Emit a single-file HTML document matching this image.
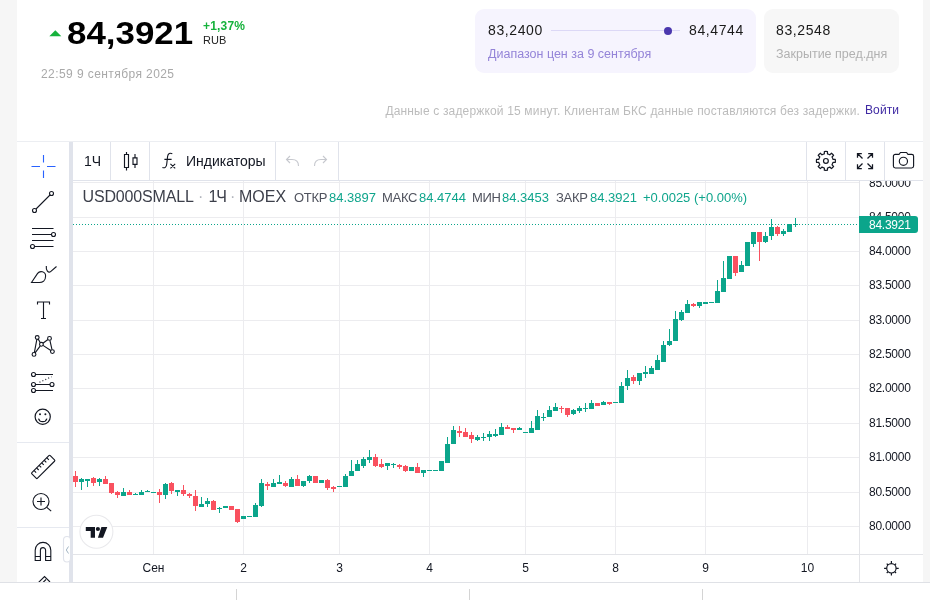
<!DOCTYPE html>
<html lang="ru">
<head>
<meta charset="utf-8">
<title>USD000SMALL</title>
<style>
*{box-sizing:border-box;margin:0;padding:0}
html,body{width:930px;height:600px;overflow:hidden;background:#fff}
body{position:relative;font-family:"Liberation Sans",sans-serif;color:#131722}
.abs{position:absolute}
.strip{position:absolute;top:0;height:582px;background:#f6f6f6}
.t{position:absolute;white-space:nowrap;line-height:1}
/* header */
#big{left:67px;top:18px;font-size:31px;font-weight:bold;color:#000;letter-spacing:0;transform-origin:0 50%;transform:scaleX(1.125)}
#chg{left:203px;top:20px;font-size:12px;font-weight:bold;color:#16b23c;letter-spacing:.2px}
#cur{left:203px;top:34.5px;font-size:11px;color:#222}
#date{left:41px;top:68px;font-size:12px;color:#a9a9a9;letter-spacing:.42px}
.card{position:absolute;top:9px;height:64px;border-radius:9px}
#c1{left:475px;width:281px;background:#f6f4fe}
#c2{left:764px;width:135px;background:#f7f7f7}
.num{font-size:14px;color:#1a1a1a;letter-spacing:.6px}
.sub{font-size:12.5px}
#note{right:70px;top:104.5px;font-size:12px;color:#bcbcbc;letter-spacing:.165px}
#login{left:865px;top:104px;font-size:12px;color:#3f2aa3;letter-spacing:.12px}
/* widget */
.hb{position:absolute;background:#e0e3eb}
.sep{position:absolute;top:142px;width:1px;height:38px;background:#e0e3eb}
.pl{position:absolute;left:869px;font-size:12px;line-height:16px;height:16px;white-space:nowrap;color:#131722;letter-spacing:-.25px}
.tl{position:absolute;top:560px;width:60px;text-align:center;font-size:12px;line-height:16px;white-space:nowrap;color:#131722}
.lg{position:absolute;top:190px;font-size:13px;line-height:16px;white-space:nowrap}
.lk{color:#50535e;letter-spacing:-.3px}
.lv{color:#0fa58c}
svg{position:absolute;left:0;top:0;overflow:visible}
</style>
</head>
<body>
<!-- page side strips -->
<div class="strip" style="left:0;width:17px"></div>
<div class="strip" style="left:923px;width:7px"></div>
<div class="hb" style="left:0;top:582px;width:930px;height:1px;background:#dfe1e6"></div>
<div class="hb" style="left:236px;top:589px;width:1px;height:11px;background:#d4d4d4"></div>
<div class="hb" style="left:469px;top:589px;width:1px;height:11px;background:#d4d4d4"></div>
<div class="hb" style="left:702px;top:589px;width:1px;height:11px;background:#d4d4d4"></div>

<!-- header -->
<svg width="930" height="140" viewBox="0 0 930 140"><path d="M49.3 36.2 L55.3 30.2 L61.3 36.2 Z" fill="#16b23c"/></svg>
<div class="t" id="big">84,3921</div>
<div class="t" id="chg">+1,37%</div>
<div class="t" id="cur">RUB</div>
<div class="t" id="date">22:59 9 сентября 2025</div>

<div class="card" id="c1">
  <div class="t num" style="left:13px;top:14px">83,2400</div>
  <div class="abs" style="left:76px;top:21px;width:129px;height:1px;background:#dcd8f6"></div>
  <div class="abs" style="left:189px;top:17.5px;width:8px;height:8px;border-radius:50%;background:#4b37ae"></div>
  <div class="t num" style="left:214px;top:14px">84,4744</div>
  <div class="t sub" style="left:13px;top:39px;color:#9484d8">Диапазон цен за 9 сентября</div>
</div>
<div class="card" id="c2">
  <div class="t num" style="left:12px;top:14px">83,2548</div>
  <div class="t sub" style="left:12px;top:39px;color:#b1b1b1">Закрытие пред.дня</div>
</div>
<div class="t" id="note">Данные с задержкой 15 минут. Клиентам БКС данные поставляются без задержки.</div>
<div class="t" id="login">Войти</div>

<!-- widget frame -->
<div class="hb" style="left:17px;top:141px;width:906px;height:1px;background:#eceef2"></div>
<div class="hb" style="left:69px;top:142px;width:4px;height:440px"></div>
<div class="hb" style="left:73px;top:180px;width:850px;height:1px"></div>
<div class="hb" style="left:73px;top:554px;width:850px;height:1px;background:#e3e4e8"></div>
<div class="hb" style="left:859px;top:181px;width:1px;height:401px;background:#e3e4e8"></div>
<div class="hb" style="left:17px;top:442px;width:52px;height:1px;background:#e6e9f0"></div>
<div class="hb" style="left:17px;top:527px;width:52px;height:1px;background:#e6e9f0"></div>
<div class="sep" style="left:110px"></div>
<div class="sep" style="left:149px"></div>
<div class="sep" style="left:275px"></div>
<div class="sep" style="left:338px"></div>
<div class="sep" style="left:806px"></div>
<div class="sep" style="left:845px"></div>
<div class="sep" style="left:884px"></div>

<!-- chart -->
<svg width="930" height="600" viewBox="0 0 930 600" shape-rendering="crispEdges">
<rect x="73" y="182" width="786" height="1" fill="#ececef"/>
<rect x="73" y="217" width="786" height="1" fill="#ececef"/>
<rect x="73" y="251" width="786" height="1" fill="#ececef"/>
<rect x="73" y="285" width="786" height="1" fill="#ececef"/>
<rect x="73" y="320" width="786" height="1" fill="#ececef"/>
<rect x="73" y="354" width="786" height="1" fill="#ececef"/>
<rect x="73" y="388" width="786" height="1" fill="#ececef"/>
<rect x="73" y="423" width="786" height="1" fill="#ececef"/>
<rect x="73" y="457" width="786" height="1" fill="#ececef"/>
<rect x="73" y="492" width="786" height="1" fill="#ececef"/>
<rect x="73" y="526" width="786" height="1" fill="#ececef"/>
<rect x="153" y="181" width="1" height="373" fill="#ececef"/>
<rect x="243" y="181" width="1" height="373" fill="#ececef"/>
<rect x="339" y="181" width="1" height="373" fill="#ececef"/>
<rect x="429" y="181" width="1" height="373" fill="#ececef"/>
<rect x="525" y="181" width="1" height="373" fill="#ececef"/>
<rect x="615" y="181" width="1" height="373" fill="#ececef"/>
<rect x="705" y="181" width="1" height="373" fill="#ececef"/>
<rect x="807" y="181" width="1" height="373" fill="#ececef"/>
<line x1="73" y1="224.5" x2="859" y2="224.5" stroke="#0ba58b" stroke-width="1" stroke-dasharray="1 2"/>
<rect x="75" y="471" width="1" height="16" fill="#f9515f"/>
<rect x="73" y="476" width="5" height="6" fill="#f9515f"/>
<rect x="81" y="478" width="1" height="12" fill="#0ba58b"/>
<rect x="79" y="479" width="5" height="3" fill="#0ba58b"/>
<rect x="87" y="479" width="1" height="8" fill="#0ba58b"/>
<rect x="85" y="479" width="5" height="2" fill="#0ba58b"/>
<rect x="93" y="477" width="1" height="9" fill="#f9515f"/>
<rect x="91" y="478" width="5" height="5" fill="#f9515f"/>
<rect x="99" y="478" width="1" height="8" fill="#0ba58b"/>
<rect x="97" y="479" width="5" height="3" fill="#0ba58b"/>
<rect x="105" y="476" width="1" height="8" fill="#f9515f"/>
<rect x="103" y="479" width="5" height="5" fill="#f9515f"/>
<rect x="111" y="483" width="1" height="11" fill="#f9515f"/>
<rect x="109" y="483" width="5" height="10" fill="#f9515f"/>
<rect x="117" y="491" width="1" height="7" fill="#f9515f"/>
<rect x="115" y="492" width="5" height="3" fill="#f9515f"/>
<rect x="123" y="488" width="1" height="8" fill="#0ba58b"/>
<rect x="121" y="492" width="5" height="4" fill="#0ba58b"/>
<rect x="129" y="490" width="1" height="5" fill="#f9515f"/>
<rect x="127" y="492" width="5" height="3" fill="#f9515f"/>
<rect x="135" y="493" width="1" height="2" fill="#0ba58b"/>
<rect x="133" y="494" width="5" height="1" fill="#0ba58b"/>
<rect x="141" y="490" width="1" height="5" fill="#0ba58b"/>
<rect x="139" y="492" width="5" height="3" fill="#0ba58b"/>
<rect x="147" y="490" width="1" height="2" fill="#0ba58b"/>
<rect x="145" y="491" width="5" height="1" fill="#0ba58b"/>
<rect x="151" y="492" width="5" height="1" fill="#0ba58b"/>
<rect x="159" y="489" width="1" height="14" fill="#f9515f"/>
<rect x="157" y="492" width="5" height="3" fill="#f9515f"/>
<rect x="165" y="483" width="1" height="16" fill="#0ba58b"/>
<rect x="163" y="484" width="5" height="11" fill="#0ba58b"/>
<rect x="171" y="482" width="1" height="12" fill="#f9515f"/>
<rect x="169" y="483" width="5" height="8" fill="#f9515f"/>
<rect x="177" y="490" width="1" height="6" fill="#0ba58b"/>
<rect x="175" y="490" width="5" height="2" fill="#0ba58b"/>
<rect x="183" y="485" width="1" height="11" fill="#f9515f"/>
<rect x="181" y="490" width="5" height="4" fill="#f9515f"/>
<rect x="189" y="493" width="1" height="5" fill="#f9515f"/>
<rect x="187" y="494" width="5" height="2" fill="#f9515f"/>
<rect x="195" y="490" width="1" height="21" fill="#f9515f"/>
<rect x="193" y="496" width="5" height="10" fill="#f9515f"/>
<rect x="201" y="497" width="1" height="10" fill="#0ba58b"/>
<rect x="199" y="504" width="5" height="3" fill="#0ba58b"/>
<rect x="207" y="498" width="1" height="9" fill="#0ba58b"/>
<rect x="205" y="501" width="5" height="3" fill="#0ba58b"/>
<rect x="213" y="500" width="1" height="10" fill="#f9515f"/>
<rect x="211" y="501" width="5" height="9" fill="#f9515f"/>
<rect x="219" y="507" width="1" height="6" fill="#0ba58b"/>
<rect x="217" y="508" width="5" height="1" fill="#0ba58b"/>
<rect x="223" y="506" width="5" height="2" fill="#0ba58b"/>
<rect x="229" y="506" width="5" height="4" fill="#f9515f"/>
<rect x="237" y="509" width="1" height="14" fill="#f9515f"/>
<rect x="235" y="509" width="5" height="13" fill="#f9515f"/>
<rect x="241" y="516" width="5" height="3" fill="#0ba58b"/>
<rect x="247" y="516" width="5" height="1" fill="#0ba58b"/>
<rect x="255" y="503" width="1" height="14" fill="#0ba58b"/>
<rect x="253" y="505" width="5" height="12" fill="#0ba58b"/>
<rect x="261" y="479" width="1" height="28" fill="#0ba58b"/>
<rect x="259" y="483" width="5" height="23" fill="#0ba58b"/>
<rect x="267" y="482" width="1" height="8" fill="#f9515f"/>
<rect x="265" y="484" width="5" height="2" fill="#f9515f"/>
<rect x="273" y="479" width="1" height="8" fill="#0ba58b"/>
<rect x="271" y="483" width="5" height="4" fill="#0ba58b"/>
<rect x="279" y="475" width="1" height="9" fill="#0ba58b"/>
<rect x="277" y="482" width="5" height="2" fill="#0ba58b"/>
<rect x="285" y="481" width="1" height="6" fill="#f9515f"/>
<rect x="283" y="483" width="5" height="3" fill="#f9515f"/>
<rect x="291" y="477" width="1" height="10" fill="#0ba58b"/>
<rect x="289" y="479" width="5" height="8" fill="#0ba58b"/>
<rect x="297" y="475" width="1" height="11" fill="#f9515f"/>
<rect x="295" y="479" width="5" height="7" fill="#f9515f"/>
<rect x="303" y="481" width="1" height="6" fill="#0ba58b"/>
<rect x="301" y="481" width="5" height="5" fill="#0ba58b"/>
<rect x="309" y="475" width="1" height="8" fill="#0ba58b"/>
<rect x="307" y="476" width="5" height="5" fill="#0ba58b"/>
<rect x="313" y="476" width="5" height="7" fill="#f9515f"/>
<rect x="319" y="480" width="5" height="3" fill="#0ba58b"/>
<rect x="327" y="479" width="1" height="11" fill="#f9515f"/>
<rect x="325" y="480" width="5" height="8" fill="#f9515f"/>
<rect x="333" y="486" width="1" height="6" fill="#f9515f"/>
<rect x="331" y="487" width="5" height="2" fill="#f9515f"/>
<rect x="337" y="486" width="5" height="1" fill="#0ba58b"/>
<rect x="345" y="474" width="1" height="13" fill="#0ba58b"/>
<rect x="343" y="476" width="5" height="11" fill="#0ba58b"/>
<rect x="351" y="460" width="1" height="16" fill="#0ba58b"/>
<rect x="349" y="471" width="5" height="5" fill="#0ba58b"/>
<rect x="357" y="460" width="1" height="11" fill="#0ba58b"/>
<rect x="355" y="464" width="5" height="7" fill="#0ba58b"/>
<rect x="363" y="457" width="1" height="11" fill="#0ba58b"/>
<rect x="361" y="459" width="5" height="7" fill="#0ba58b"/>
<rect x="369" y="450" width="1" height="13" fill="#0ba58b"/>
<rect x="367" y="457" width="5" height="3" fill="#0ba58b"/>
<rect x="375" y="454" width="1" height="13" fill="#f9515f"/>
<rect x="373" y="457" width="5" height="9" fill="#f9515f"/>
<rect x="381" y="459" width="1" height="9" fill="#f9515f"/>
<rect x="379" y="464" width="5" height="3" fill="#f9515f"/>
<rect x="387" y="463" width="1" height="7" fill="#0ba58b"/>
<rect x="385" y="463" width="5" height="3" fill="#0ba58b"/>
<rect x="393" y="463" width="1" height="5" fill="#0ba58b"/>
<rect x="391" y="464" width="5" height="1" fill="#0ba58b"/>
<rect x="399" y="464" width="1" height="5" fill="#f9515f"/>
<rect x="397" y="465" width="5" height="2" fill="#f9515f"/>
<rect x="405" y="465" width="1" height="7" fill="#f9515f"/>
<rect x="403" y="466" width="5" height="5" fill="#f9515f"/>
<rect x="409" y="467" width="5" height="4" fill="#0ba58b"/>
<rect x="417" y="463" width="1" height="10" fill="#f9515f"/>
<rect x="415" y="467" width="5" height="6" fill="#f9515f"/>
<rect x="423" y="470" width="1" height="7" fill="#0ba58b"/>
<rect x="421" y="470" width="5" height="3" fill="#0ba58b"/>
<rect x="427" y="470" width="5" height="1" fill="#0ba58b"/>
<rect x="433" y="470" width="5" height="1" fill="#0ba58b"/>
<rect x="439" y="461" width="5" height="10" fill="#0ba58b"/>
<rect x="447" y="437" width="1" height="26" fill="#0ba58b"/>
<rect x="445" y="444" width="5" height="19" fill="#0ba58b"/>
<rect x="453" y="426" width="1" height="18" fill="#0ba58b"/>
<rect x="451" y="430" width="5" height="14" fill="#0ba58b"/>
<rect x="459" y="426" width="1" height="11" fill="#f9515f"/>
<rect x="457" y="431" width="5" height="2" fill="#f9515f"/>
<rect x="465" y="428" width="1" height="9" fill="#f9515f"/>
<rect x="463" y="432" width="5" height="5" fill="#f9515f"/>
<rect x="471" y="432" width="1" height="11" fill="#f9515f"/>
<rect x="469" y="435" width="5" height="4" fill="#f9515f"/>
<rect x="477" y="435" width="1" height="6" fill="#0ba58b"/>
<rect x="475" y="437" width="5" height="3" fill="#0ba58b"/>
<rect x="483" y="433" width="1" height="8" fill="#0ba58b"/>
<rect x="481" y="437" width="5" height="1" fill="#0ba58b"/>
<rect x="489" y="431" width="1" height="10" fill="#0ba58b"/>
<rect x="487" y="434" width="5" height="3" fill="#0ba58b"/>
<rect x="495" y="429" width="1" height="8" fill="#0ba58b"/>
<rect x="493" y="434" width="5" height="2" fill="#0ba58b"/>
<rect x="501" y="423" width="1" height="12" fill="#0ba58b"/>
<rect x="499" y="427" width="5" height="8" fill="#0ba58b"/>
<rect x="507" y="425" width="1" height="4" fill="#f9515f"/>
<rect x="505" y="427" width="5" height="2" fill="#f9515f"/>
<rect x="513" y="428" width="1" height="5" fill="#f9515f"/>
<rect x="511" y="428" width="5" height="2" fill="#f9515f"/>
<rect x="519" y="427" width="1" height="3" fill="#0ba58b"/>
<rect x="517" y="428" width="5" height="2" fill="#0ba58b"/>
<rect x="523" y="432" width="5" height="1" fill="#0ba58b"/>
<rect x="531" y="421" width="1" height="12" fill="#0ba58b"/>
<rect x="529" y="428" width="5" height="5" fill="#0ba58b"/>
<rect x="537" y="410" width="1" height="20" fill="#0ba58b"/>
<rect x="535" y="416" width="5" height="14" fill="#0ba58b"/>
<rect x="543" y="413" width="1" height="8" fill="#0ba58b"/>
<rect x="541" y="417" width="5" height="1" fill="#0ba58b"/>
<rect x="549" y="406" width="1" height="11" fill="#0ba58b"/>
<rect x="547" y="410" width="5" height="7" fill="#0ba58b"/>
<rect x="555" y="403" width="1" height="8" fill="#0ba58b"/>
<rect x="553" y="407" width="5" height="4" fill="#0ba58b"/>
<rect x="561" y="406" width="1" height="7" fill="#f9515f"/>
<rect x="559" y="408" width="5" height="1" fill="#f9515f"/>
<rect x="567" y="408" width="1" height="9" fill="#f9515f"/>
<rect x="565" y="408" width="5" height="7" fill="#f9515f"/>
<rect x="573" y="409" width="1" height="6" fill="#0ba58b"/>
<rect x="571" y="410" width="5" height="4" fill="#0ba58b"/>
<rect x="579" y="406" width="1" height="7" fill="#0ba58b"/>
<rect x="577" y="408" width="5" height="3" fill="#0ba58b"/>
<rect x="585" y="403" width="1" height="9" fill="#0ba58b"/>
<rect x="583" y="408" width="5" height="1" fill="#0ba58b"/>
<rect x="591" y="400" width="1" height="9" fill="#0ba58b"/>
<rect x="589" y="403" width="5" height="6" fill="#0ba58b"/>
<rect x="595" y="403" width="5" height="3" fill="#f9515f"/>
<rect x="603" y="401" width="1" height="4" fill="#0ba58b"/>
<rect x="601" y="402" width="5" height="3" fill="#0ba58b"/>
<rect x="609" y="402" width="1" height="3" fill="#f9515f"/>
<rect x="607" y="402" width="5" height="2" fill="#f9515f"/>
<rect x="613" y="402" width="5" height="1" fill="#0ba58b"/>
<rect x="621" y="382" width="1" height="21" fill="#0ba58b"/>
<rect x="619" y="386" width="5" height="17" fill="#0ba58b"/>
<rect x="627" y="370" width="1" height="20" fill="#0ba58b"/>
<rect x="625" y="378" width="5" height="8" fill="#0ba58b"/>
<rect x="633" y="375" width="1" height="9" fill="#f9515f"/>
<rect x="631" y="377" width="5" height="4" fill="#f9515f"/>
<rect x="639" y="373" width="1" height="12" fill="#0ba58b"/>
<rect x="637" y="373" width="5" height="8" fill="#0ba58b"/>
<rect x="645" y="366" width="1" height="12" fill="#0ba58b"/>
<rect x="643" y="372" width="5" height="2" fill="#0ba58b"/>
<rect x="651" y="366" width="1" height="8" fill="#0ba58b"/>
<rect x="649" y="368" width="5" height="6" fill="#0ba58b"/>
<rect x="657" y="355" width="1" height="15" fill="#0ba58b"/>
<rect x="655" y="360" width="5" height="10" fill="#0ba58b"/>
<rect x="663" y="341" width="1" height="21" fill="#0ba58b"/>
<rect x="661" y="345" width="5" height="17" fill="#0ba58b"/>
<rect x="669" y="329" width="1" height="17" fill="#0ba58b"/>
<rect x="667" y="341" width="5" height="4" fill="#0ba58b"/>
<rect x="675" y="311" width="1" height="30" fill="#0ba58b"/>
<rect x="673" y="319" width="5" height="22" fill="#0ba58b"/>
<rect x="681" y="310" width="1" height="11" fill="#0ba58b"/>
<rect x="679" y="312" width="5" height="8" fill="#0ba58b"/>
<rect x="687" y="300" width="1" height="13" fill="#0ba58b"/>
<rect x="685" y="304" width="5" height="9" fill="#0ba58b"/>
<rect x="693" y="303" width="1" height="4" fill="#f9515f"/>
<rect x="691" y="304" width="5" height="2" fill="#f9515f"/>
<rect x="699" y="302" width="1" height="6" fill="#0ba58b"/>
<rect x="697" y="302" width="5" height="4" fill="#0ba58b"/>
<rect x="703" y="302" width="5" height="2" fill="#0ba58b"/>
<rect x="709" y="302" width="5" height="1" fill="#0ba58b"/>
<rect x="717" y="280" width="1" height="23" fill="#0ba58b"/>
<rect x="715" y="291" width="5" height="12" fill="#0ba58b"/>
<rect x="723" y="261" width="1" height="31" fill="#0ba58b"/>
<rect x="721" y="278" width="5" height="14" fill="#0ba58b"/>
<rect x="727" y="256" width="5" height="23" fill="#0ba58b"/>
<rect x="735" y="256" width="1" height="20" fill="#f9515f"/>
<rect x="733" y="256" width="5" height="17" fill="#f9515f"/>
<rect x="741" y="261" width="1" height="11" fill="#0ba58b"/>
<rect x="739" y="265" width="5" height="7" fill="#0ba58b"/>
<rect x="745" y="242" width="5" height="24" fill="#0ba58b"/>
<rect x="753" y="232" width="1" height="15" fill="#0ba58b"/>
<rect x="751" y="232" width="5" height="12" fill="#0ba58b"/>
<rect x="759" y="232" width="1" height="29" fill="#f9515f"/>
<rect x="757" y="232" width="5" height="10" fill="#f9515f"/>
<rect x="765" y="232" width="1" height="11" fill="#0ba58b"/>
<rect x="763" y="236" width="5" height="6" fill="#0ba58b"/>
<rect x="771" y="219" width="1" height="21" fill="#0ba58b"/>
<rect x="769" y="227" width="5" height="9" fill="#0ba58b"/>
<rect x="777" y="226" width="1" height="10" fill="#f9515f"/>
<rect x="775" y="227" width="5" height="7" fill="#f9515f"/>
<rect x="783" y="229" width="1" height="7" fill="#0ba58b"/>
<rect x="781" y="231" width="5" height="3" fill="#0ba58b"/>
<rect x="787" y="224" width="5" height="8" fill="#0ba58b"/>
<rect x="795" y="218" width="1" height="9" fill="#0ba58b"/>
<rect x="793" y="224" width="5" height="1" fill="#0ba58b"/>
</svg>

<!-- toolbar text -->
<div class="t" style="left:84px;top:154px;font-size:14px">1Ч</div>
<div class="t" style="left:186px;top:154px;font-size:14px">Индикаторы</div>

<!-- legend -->
<div class="lg" style="left:82.5px;top:187px;font-size:16px;line-height:20px;color:#3c3f4a;letter-spacing:-.15px">USD000SMALL</div>
<div class="lg" style="left:198px;top:187px;font-size:16px;line-height:20px;color:#b2b5bd">·</div>
<div class="lg" style="left:208.5px;top:187px;font-size:16px;line-height:20px;color:#3c3f4a;letter-spacing:-1.2px">1Ч</div>
<div class="lg" style="left:230px;top:187px;font-size:16px;line-height:20px;color:#b2b5bd">·</div>
<div class="lg" style="left:239px;top:187px;font-size:16px;line-height:20px;color:#3c3f4a">MOEX</div>
<div class="lg lk" style="left:294px">ОТКР</div><div class="lg lv" style="left:329px">84.3897</div>
<div class="lg lk" style="left:382px">МАКС</div><div class="lg lv" style="left:419px">84.4744</div>
<div class="lg lk" style="left:472px">МИН</div><div class="lg lv" style="left:502px">84.3453</div>
<div class="lg lk" style="left:556px">ЗАКР</div><div class="lg lv" style="left:590px">84.3921</div>
<div class="lg lv" style="left:643px">+0.0025 (+0.00%)</div>

<!-- price axis -->
<div class="abs" style="left:860px;top:181px;width:63px;height:373px;overflow:hidden">
<div style="position:absolute;left:-860px;top:-181px">
<div class="pl" style="top:174.9px">85.0000</div>
<div class="pl" style="top:209.4px">84.5000</div>
<div class="pl" style="top:243.4px">84.0000</div>
<div class="pl" style="top:277.4px">83.5000</div>
<div class="pl" style="top:312.4px">83.0000</div>
<div class="pl" style="top:346.4px">82.5000</div>
<div class="pl" style="top:380.4px">82.0000</div>
<div class="pl" style="top:415.4px">81.5000</div>
<div class="pl" style="top:449.4px">81.0000</div>
<div class="pl" style="top:484.4px">80.5000</div>
<div class="pl" style="top:518.4px">80.0000</div>
</div>
</div>
<div class="abs" style="left:859px;top:216px;width:59px;height:17px;background:#0ba58b;border-radius:0 3px 3px 0"></div>
<div class="pl" style="top:216.5px;color:#fff">84.3921</div>

<!-- time axis -->
<div class="tl" style="left:123.5px">Сен</div>
<div class="tl" style="left:213.5px">2</div>
<div class="tl" style="left:309.5px">3</div>
<div class="tl" style="left:399.5px">4</div>
<div class="tl" style="left:495.5px">5</div>
<div class="tl" style="left:585.5px">8</div>
<div class="tl" style="left:675.5px">9</div>
<div class="tl" style="left:777.5px">10</div>

<!-- icons -->
<svg width="930" height="600" viewBox="0 0 930 600" fill="none" stroke="#131722" stroke-width="1.12" id="icons">
<path stroke="#2962ff" d="M43.5 155v7.5M43.5 170.5v7.5M31.5 166.5h8.5M47 166.5h8.5"/>
<circle cx="51.5" cy="193.5" r="2"/><circle cx="34.5" cy="210.5" r="2"/><path d="M36 209L50 195"/>
<path d="M32 228.5h21.5M32 234.5h19.5M32 240.5h21.5M34.5 246.5h19"/><circle cx="53.5" cy="234.5" r="2"/><circle cx="32.5" cy="246.5" r="2"/>
<path d="M31.5 282.5L37.6 273.4C39.8 270.4 45.6 271.2 45.6 276C45.6 280.6 42.5 282.5 39.5 282.5Z"/><path d="M46.3 266C45.8 270 48.3 273.6 50.6 271.6L56.5 266.5"/>
<path d="M37.5 304.5v-2.5h12v2.5M43.5 302v16.5M41 318.5h5"/>
<path d="M34.35 352.53L36.85 339.37M38.20 339.12L40.40 342.68M42.94 343.18L47.96 339.52M49.91 340.26L51.99 349.74M35.12 352.87L40.28 345.83M42.98 345.35L50.82 350.55"/><circle cx="34" cy="354.4" r="1.9"/><circle cx="37.2" cy="337.5" r="1.9"/><circle cx="41.4" cy="344.3" r="1.9"/><circle cx="49.5" cy="338.4" r="1.9"/><circle cx="52.4" cy="351.6" r="1.9"/>
<path d="M35.5 374.5h17.5M35.5 384.5h14.5M35.5 390.5h17.5"/><path d="M39.5 382.3L51.5 376.8" stroke-dasharray="1 2.2"/><circle cx="33.5" cy="374.5" r="2"/><circle cx="33.5" cy="384.5" r="2"/><circle cx="52" cy="384.5" r="2"/><circle cx="33.5" cy="390.5" r="2"/>
<circle cx="42.7" cy="416.7" r="7.6" stroke-width="1.2"/><circle cx="40" cy="414.3" r="1" fill="#131722" stroke="none"/><circle cx="45.4" cy="414.3" r="1" fill="#131722" stroke="none"/><path d="M38.5 418.6a4.4 4.4 0 0 0 8.4 0" stroke-width="1.2"/>
<g transform="translate(43.2 466.9) rotate(-45)"><rect x="-13" y="-4" width="26" height="8" rx="1"/><path d="M-9 -4v3M-5.4 -4v3M-1.8 -4v3M1.8 -4v3M5.4 -4v3M9 -4v3"/></g>
<circle cx="41" cy="501.5" r="8"/><path d="M37 501.5h8M41 497.5v8M46.8 507.3L51.2 511.2"/>
<path d="M35.2 560.5V550.2a7.8 7.8 0 0 1 15.6 0V560.5H45.6V550.2a2.6 2.6 0 0 0-5.2 0V560.5ZM35.2 556.5h5.2M45.6 556.5h5.2" stroke-width="1.1"/>
<clipPath id="cb"><rect x="17" y="570" width="52" height="12"/></clipPath><g clip-path="url(#cb)"><path d="M38.5 582.5L44.5 576.5L50 582M41.5 584L46 579.5"/></g>
<rect x="63.5" y="536.5" width="7" height="25.5" rx="3.5" fill="#fff" stroke="#e0e3eb"/><path d="M68.5 546.5L66.3 550L68.5 553.5" stroke="#a3b6c4" stroke-width="1"/>
<circle cx="96.4" cy="531.8" r="16.5" fill="#fff" stroke="#e9e9ec"/><path fill="#131722" stroke="none" d="M85.8 527h9.2v10.7h-4.3v-6.7h-4.9zM101.4 527h5.9l-4.3 10.7h-5.1z"/><circle cx="97.9" cy="529" r="2.1" fill="#131722" stroke="none"/>
<path d="M124.5 154.5h4v13h-4zM126.5 152v2.5M126.5 167.5v3M133 157.8h4v6.6h-4zM135 154v3.8M135 164.4v3.6" stroke-width="1.15"/>
<path d="M162.4 167.4c2.3 1.1 4-.2 4.3-3.2l.9-7.8c.4-2.9 2.4-3.9 4.7-2.7M164.4 159.4h7.2M170.4 163.8l4.8 4.6M175.2 163.8l-4.8 4.6"/>
<g stroke="#c6c8ce"><path d="M298.5 166c0-4.2-2.8-6.5-6.5-6.5h-5.5M290 156l-3.5 3.5 3.5 3.5"/><path d="M314.5 166c0-4.2 2.8-6.5 6.5-6.5h5.5M323 156l3.5 3.5-3.5 3.5"/></g>
<path d="M824.35 153.82L824.35 151.53A9.5 9.5 0 0 1 827.45 151.53L827.45 153.82A7.25 7.25 0 0 1 829.81 154.80L829.81 154.80L831.43 153.18A9.5 9.5 0 0 1 833.62 155.37L832.00 156.99A7.25 7.25 0 0 1 832.98 159.35L832.98 159.35L835.27 159.35A9.5 9.5 0 0 1 835.27 162.45L832.98 162.45A7.25 7.25 0 0 1 832.00 164.81L832.00 164.81L833.62 166.43A9.5 9.5 0 0 1 831.43 168.62L829.81 167.00A7.25 7.25 0 0 1 827.45 167.98L827.45 167.98L827.45 170.27A9.5 9.5 0 0 1 824.35 170.27L824.35 167.98A7.25 7.25 0 0 1 821.99 167.00L821.99 167.00L820.37 168.62A9.5 9.5 0 0 1 818.18 166.43L819.80 164.81A7.25 7.25 0 0 1 818.82 162.45L818.82 162.45L816.53 162.45A9.5 9.5 0 0 1 816.53 159.35L818.82 159.35A7.25 7.25 0 0 1 819.80 156.99L819.80 156.99L818.18 155.37A9.5 9.5 0 0 1 820.37 153.18L821.99 154.80A7.25 7.25 0 0 1 824.35 153.82Z" stroke-width="1.2" stroke-linejoin="round"/><circle cx="825.9" cy="160.9" r="2.4" stroke-width="1.2"/>
<path d="M857.5 157.8v-4.3h4.3M857.5 153.5l5 5M872.5 157.8v-4.3h-4.3M872.5 153.5l-5 5M857.5 164.2v4.3h4.3M857.5 168.5l5-5M872.5 164.2v4.3h-4.3M872.5 168.5l-5-5" stroke-width="1.25"/>
<path d="M895.3 154.3h3.9l1.2-1.8h6.2l1.2 1.8h3.9a1.9 1.9 0 0 1 1.9 1.9v9.9a1.9 1.9 0 0 1-1.9 1.9h-16.4a1.9 1.9 0 0 1-1.9-1.9v-9.9a1.9 1.9 0 0 1 1.9-1.9z" stroke-width="1.15" stroke-linejoin="round"/><circle cx="903.4" cy="161.3" r="4.1" stroke-width="1.15"/>
<circle cx="891.4" cy="568.3" r="4.7" stroke-width="1.2"/><path d="M896.10 568.30L898.70 568.30M894.72 571.62L896.07 572.97M891.40 573.00L891.40 575.60M888.08 571.62L886.73 572.97M886.70 568.30L884.10 568.30M888.08 564.98L886.73 563.63M891.40 563.60L891.40 561.00M894.72 564.98L896.07 563.63" stroke-width="1.2"/>
</svg>
</body>
</html>
